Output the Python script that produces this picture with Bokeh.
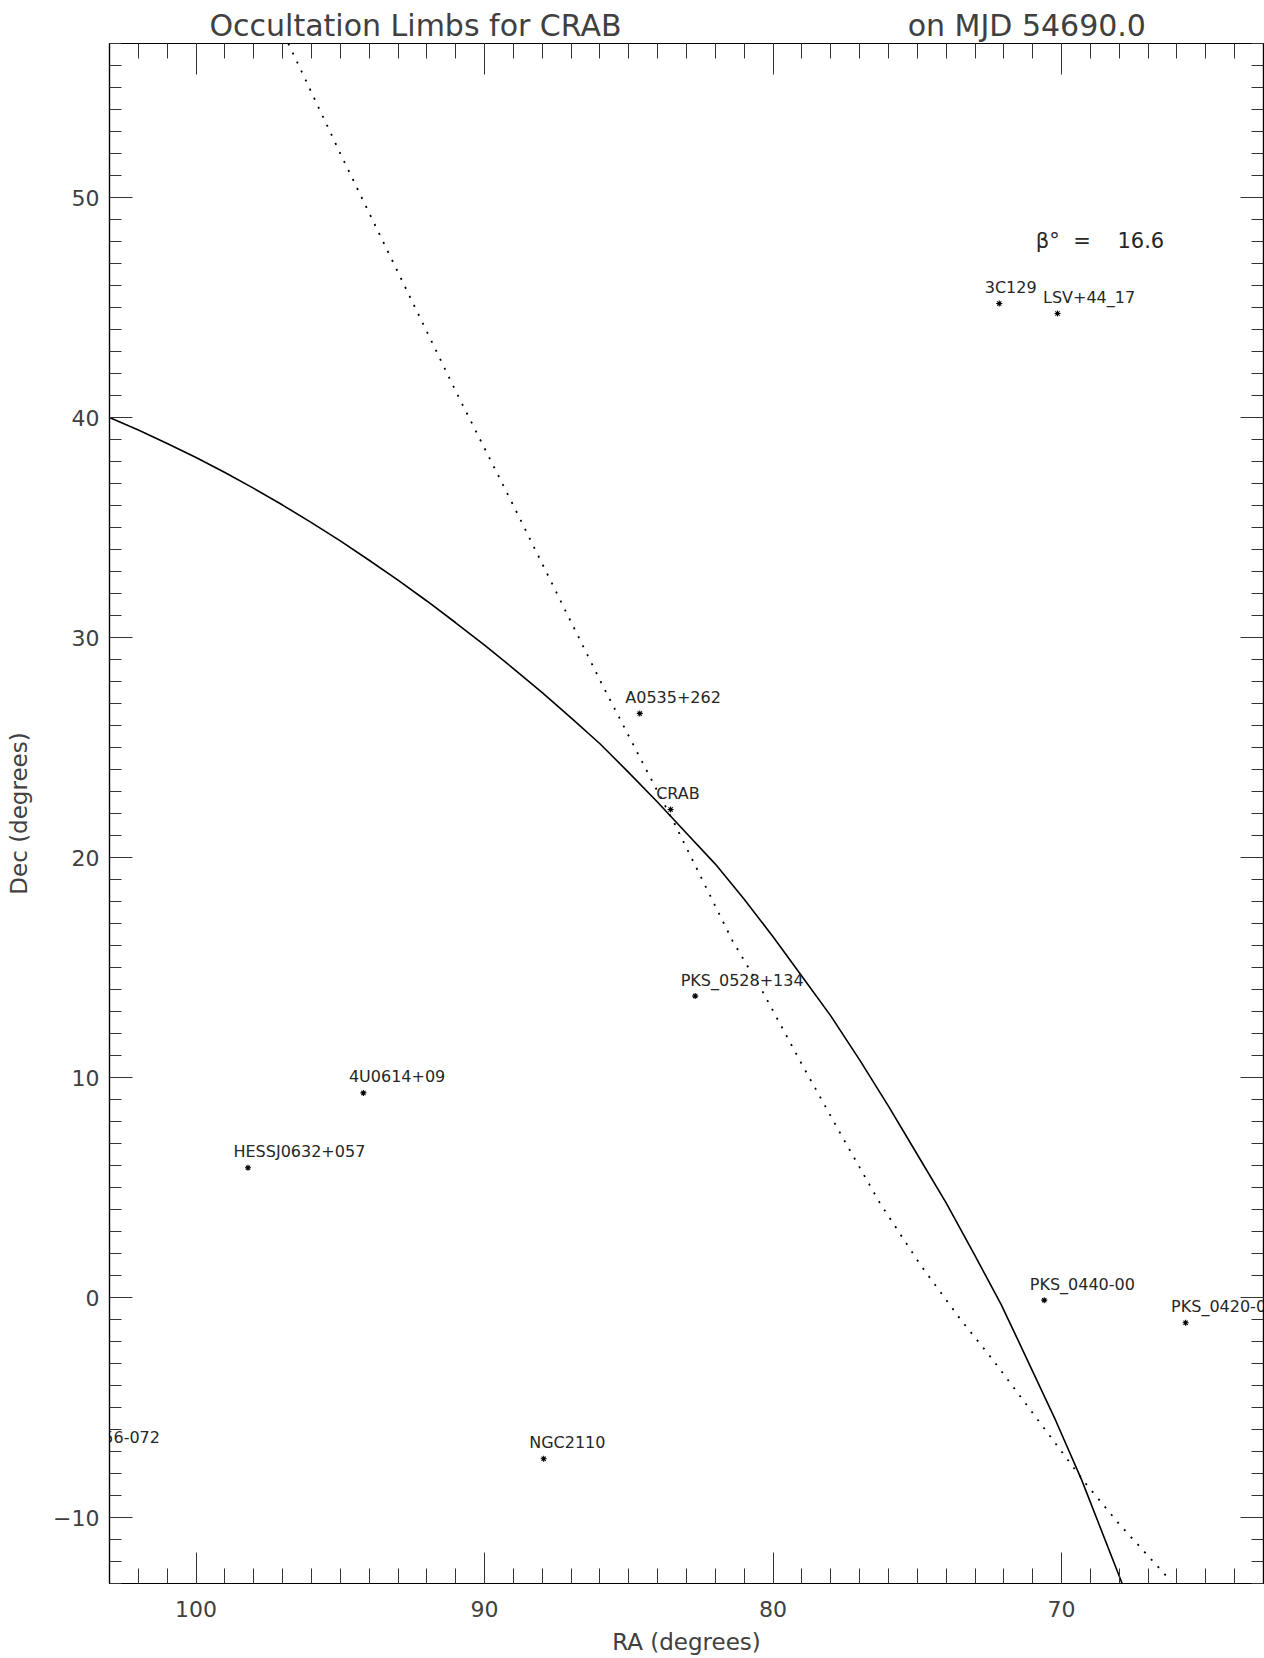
from bokeh.plotting import figure
from bokeh.models import Range1d, FixedTicker, LinearAxis, Label, ColumnDataSource, Title
from bokeh.core.properties import value
from bokeh.embed import file_html
from bokeh.resources import INLINE

# Earth-limb track at occultation ingress (RA, Dec in degrees)
limb_in_ra = [103.0, 102.0, 101.0, 100.0, 99.0, 98.0, 97.0, 96.0, 95.0, 94.0, 93.0,
              92.0, 91.0, 90.0, 89.0, 88.0, 87.0, 86.0, 85.0, 84.0, 83.0, 82.0,
              81.0, 80.0, 79.0, 78.0, 77.0, 76.0, 75.0, 74.0, 73.0, 72.1, 71.2,
              70.2, 69.3, 67.9]
limb_in_dec = [40.0, 39.43, 38.82, 38.18, 37.5, 36.78, 36.02, 35.22, 34.39, 33.51,
               32.61, 31.66, 30.67, 29.65, 28.59, 27.49, 26.35, 25.17, 23.86, 22.51,
               21.1, 19.7, 18.1, 16.4, 14.6, 12.8, 10.8, 8.7, 6.5, 4.3, 1.9, -0.3,
               -2.8, -5.6, -8.3, -13.0]

# Earth-limb track at occultation egress
limb_out_ra = [96.8, 95.0, 93.0, 91.0, 89.0, 87.0, 85.9, 84.4, 83.4, 81.4, 80.4,
               79.0, 77.6, 76.3, 74.9, 73.5, 72.4, 70.8, 69.2, 68.0, 66.2]
limb_out_dec = [57.0, 52.0, 46.6, 41.2, 36.0, 30.7, 27.8, 24.0, 21.5, 16.2, 14.0,
                10.6, 7.3, 4.3, 1.5, -1.0, -2.8, -5.6, -8.4, -10.3, -12.9]

# Catalog sources near the target
src_names = ["3C129", "LSV+44_17", "A0535+262", "CRAB", "PKS_0528+134", "4U0614+09",
             "HESSJ0632+057", "PKS_0440-00", "PKS_0420-01", "NGC2110", "1A0656-072"]
src_ra = [72.16, 70.14, 84.62, 83.55, 82.7, 94.2, 98.2, 70.6, 65.7, 87.95, 104.15]
src_dec = [45.18, 44.73, 26.55, 22.18, 13.7, 9.3, 5.9, -0.12, -1.15, -7.33, -7.1]

# Axis ticks
ra_major = [70, 80, 90, 100]
ra_minor = list(range(63, 104))
dec_major = [-10, 0, 10, 20, 30, 40, 50]
dec_minor = list(range(-13, 58))
dec_overrides = {-10: "\u221210"}

beta_text = "\u03b2\u00b0\u00a0\u00a0=\u00a0\u00a0\u00a0\u00a016.6"
title_text = "Occultation Limbs for CRAB" + "\u00a0" * 30 + "on MJD 54690.0"

FONT = "DejaVu Sans"
INK = "#262626"
AXIS_INK = "#404040"

p = figure(width=1264, height=1658, title=None,
           x_range=Range1d(103, 63), y_range=Range1d(-13, 57),
           output_backend="svg", toolbar_location=None,
           min_border_left=109, min_border_right=1,
           min_border_top=43, min_border_bottom=75)
p.xgrid.visible = False
p.ygrid.visible = False
p.background_fill_color = "white"
p.border_fill_color = "white"
p.outline_line_color = "black"
p.outline_line_width = 1.2


def style_axis(ax, major, minor, major_len, minor_len, show_labels):
    ax.ticker = FixedTicker(ticks=major, minor_ticks=minor)
    ax.major_tick_in = major_len
    ax.major_tick_out = 0
    ax.minor_tick_in = minor_len
    ax.minor_tick_out = 0
    ax.axis_line_color = "black"
    ax.axis_line_width = 1.2
    ax.major_tick_line_color = "#333333"
    ax.minor_tick_line_color = "#333333"
    ax.major_tick_line_width = 1
    ax.minor_tick_line_width = 1
    if show_labels:
        ax.major_label_text_font = FONT
        ax.major_label_text_font_size = "22px"
        ax.major_label_text_color = AXIS_INK
        ax.axis_label_text_font = FONT
        ax.axis_label_text_font_size = "23px"
        ax.axis_label_text_font_style = "normal"
        ax.axis_label_text_color = AXIS_INK
    else:
        # mirrored frame side: ticks only
        ax.major_label_overrides = {t: "" for t in major}
        ax.major_label_text_font_size = "1px"
        ax.major_label_standoff = 0
        ax.axis_label = None


xb = p.xaxis[0]
style_axis(xb, ra_major, ra_minor, 31, 15, True)
xb.axis_label = "RA (degrees)"
xb.major_label_standoff = 17
xb.axis_label_standoff = 9

yl = p.yaxis[0]
style_axis(yl, dec_major, dec_minor, 23, 12, True)
yl.axis_label = "Dec (degrees)"
yl.major_label_standoff = 10
yl.axis_label_standoff = 18
yl.major_label_overrides = dec_overrides
yl.major_label_orientation = "horizontal"

xt = LinearAxis()
style_axis(xt, ra_major, ra_minor, 31, 15, False)
p.add_layout(xt, "above")

yr = LinearAxis()
style_axis(yr, dec_major, dec_minor, 23, 12, False)
p.add_layout(yr, "right")

p.add_layout(Title(text=title_text, align="left", offset=100, standoff=2,
                   text_font=FONT, text_font_size="30px",
                   text_font_style="normal", text_color=AXIS_INK), "above")

# Limb tracks
p.line(limb_in_ra, limb_in_dec, line_color="black", line_width=1.6)
p.line(limb_out_ra, limb_out_dec, line_color="black", line_width=1.8,
       line_dash="2 8")

# Sources: star marker with the name above-left
src = ColumnDataSource(dict(ra=src_ra, dec=src_dec, name=src_names))
p.scatter("ra", "dec", source=src, marker="asterisk", size=6,
          line_color="black", line_width=1.1)
p.text("ra", "dec", text="name", source=src, x_offset=-14.5, y_offset=-16,
       text_font=value(FONT), text_font_size="16px", text_color=INK,
       text_align="left", text_baseline="alphabetic")

# Beta angle annotation
p.add_layout(Label(x=70.89, y=48.04, text=beta_text, text_font=FONT,
                   text_font_size="21px", text_color=INK,
                   text_align="left", text_baseline="alphabetic"))

open("out.html", "w").write(file_html(p, INLINE))
